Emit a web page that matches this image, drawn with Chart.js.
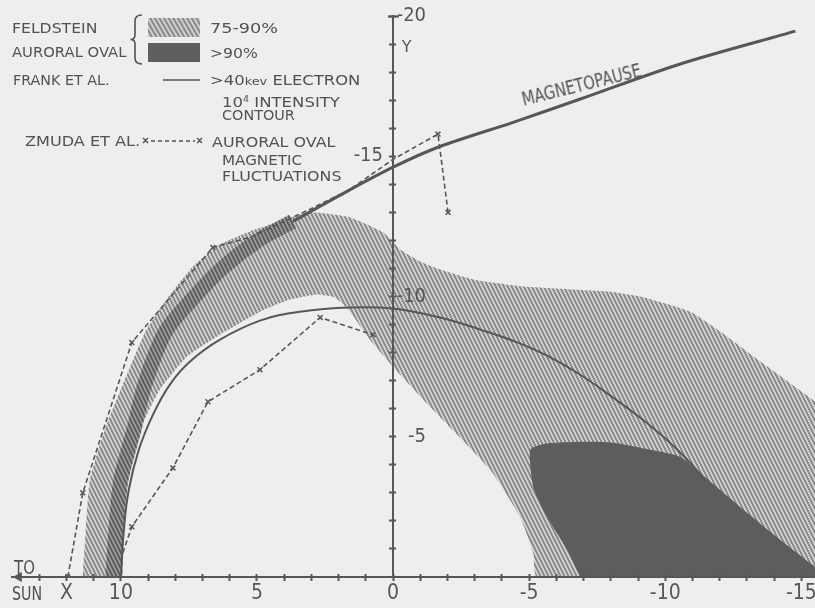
<!DOCTYPE html>
<html>
<head>
<meta charset="utf-8">
<script src="https://cdn.jsdelivr.net/npm/chart.js@4.4.1/dist/chart.umd.min.js"></script>
<style>
  html, body { margin: 0; padding: 0; background: #eeeeec; overflow: hidden; }
  #wrap { position: relative; width: 815px; height: 608px; overflow: hidden; }
  #wrap canvas { position: absolute; left: 0; top: 0; }
  .t { position: absolute; white-space: nowrap; font-family: 'DejaVu Sans', sans-serif; font-size: 14px;
       line-height: 16px; color: #525252; transform-origin: left center; }
  .n { font-family: 'DejaVu Sans Condensed', 'Liberation Sans Narrow', sans-serif; }
  sup { font-size: 8px; vertical-align: 5px; }
</style>
</head>
<body>
<div id="wrap">
  <!-- 6px breiter als das Fenster: Chart.js haelt rechts 6px frei, so reicht die X-Achse bis zum Rand -->
  <canvas id="chart" width="821" height="608"></canvas>

  <!-- legend -->
  <svg width="230" height="190" style="position:absolute;left:0;top:0">
    <defs>
      <pattern id="hatch" width="4" height="4" patternUnits="userSpaceOnUse" patternTransform="rotate(-30)">
        <rect width="4" height="4" fill="#d0d0d0"/>
        <rect width="2" height="4" fill="#8a8a8a"/>
      </pattern>
    </defs>
    <path d="M142 15 Q135 15 135 21 L135 35 Q135 39.5 130.5 39.5 Q135 39.5 135 44 L135 58 Q135 64 142 64"
          fill="none" stroke="#525252" stroke-width="1.6"/>
    <rect x="148" y="18" width="52" height="19" fill="url(#hatch)"/>
    <rect x="148" y="43" width="52" height="19" fill="#5f5f5f"/>
    <line x1="163" y1="80" x2="200" y2="80" stroke="#525252" stroke-width="1.6"/>
    <line x1="151" y1="141" x2="195" y2="141" stroke="#525252" stroke-width="1.5" stroke-dasharray="4 3"/>
    <path d="M143 138 l5 5 M148 138 l-5 5 M197 138 l5 5 M202 138 l-5 5" stroke="#525252" stroke-width="1.4"/>
  </svg>
  <div class="t" data-w="85" style="left:12px;top:20px">FELDSTEIN</div>
  <div class="t" data-w="114" style="left:12px;top:44px">AURORAL OVAL</div>
  <div class="t" data-w="68" style="left:210px;top:20px">75-90%</div>
  <div class="t" data-w="48" style="left:210px;top:45px">&gt;90%</div>
  <div class="t" data-w="97" style="left:13px;top:72px">FRANK ET AL.</div>
  <div class="t" data-w="150" style="left:210px;top:72px">&gt;40<span style="font-size:11px">kev</span> ELECTRON</div>
  <div class="t" data-w="118" style="left:222px;top:92px">10<sup>4</sup> INTENSITY</div>
  <div class="t" data-w="73" style="left:222px;top:107px">CONTOUR</div>
  <div class="t" data-w="115" style="left:25px;top:133px">ZMUDA ET AL.</div>
  <div class="t" data-w="123" style="left:212px;top:134px">AURORAL OVAL</div>
  <div class="t" data-w="80" style="left:222px;top:152px">MAGNETIC</div>
  <div class="t" data-w="120" style="left:222px;top:168px">FLUCTUATIONS</div>

  <!-- annotations -->
  <div class="t n" data-w="122" data-rot="-14" style="left:522px;top:88px;font-size:20px;line-height:22px">MAGNETOPAUSE</div>
  <div class="t n" data-w="21" style="left:14px;top:557px;font-size:19px;line-height:20px">TO</div>
  <div class="t n" data-w="30" style="left:12px;top:583px;font-size:19px;line-height:20px">SUN</div>
</div>

<script>
/* Bahnen und Grenzen, X und Y in Erdradien (X positiv zur Sonne) */

// Magnetopause
const magnetopauseX = [10.29, 10.18, 10.0, 9.52, 9.12, 8.38, 7.39, 6.2, 4.89, 3.68, 1.69, 0, -1.65, -4.41, -6.88, -10.55, -14.78];
const magnetopauseY = [0, -1.68, -3.46, -5.25, -6.86, -8.71, -9.89, -11.07, -12.04, -12.68, -13.75, -14.61, -15.32, -16.21, -17.04, -18.29, -19.46];
const denseBandUntil = 9; // dicht schraffiertes Stueck entlang der Magnetopause

// Frank et al., >40 keV Elektronen, 10^4 Intensitaetskontur
const frankX = [10.0, 9.89, 9.71, 9.34, 8.82, 8.2, 7.46, 6.36, 4.89, 3.42, 1.58, 0, -1.73, -3.2, -4.49, -5.66, -6.88, -8.09, -9.08, -9.93, -10.74, -11.47];
const frankY = [0, -1.68, -3.11, -4.54, -5.79, -6.86, -7.68, -8.46, -9.14, -9.46, -9.61, -9.57, -9.25, -8.82, -8.39, -7.89, -7.21, -6.39, -5.68, -5.0, -4.25, -3.46];

// Zmuda et al., magnetische Fluktuationen (aussen / innen), 1 = Messpunkt mit x
const zmudaOuterX = [11.95, 11.4, 9.6, 6.62, 5.26, 3.05, 1.58, 0, -1.65, -2.02];
const zmudaOuterY = [0, -3.0, -8.36, -11.75, -12.11, -13.11, -13.82, -14.89, -15.79, -13.0];
const zmudaOuterMarked = [1, 1, 1, 1, 0, 0, 0, 0, 1, 1];
const zmudaInnerX = [9.93, 9.6, 8.09, 6.8, 4.89, 2.68, 0.74];
const zmudaInnerY = [-0.86, -1.79, -3.89, -6.25, -7.39, -9.25, -8.64];
const zmudaInnerMarked = [0, 1, 1, 1, 1, 1, 1];

// Feldstein Ovale: 75-90% (schraffiert) und >90% (dunkel), als geschlossene Umrisse
const oval75X = [11.4, 11.29, 11.14, 10.59, 9.93, 9.12, 8.27, 7.35, 6.36, 5.26, 4.15, 3.05, 1.58, 0.37, -0.26, -0.99, -1.73, -2.94, -4.78, -7.87, -9.08, -10.92, -12.02, -13.49, -15.51, -16.07,
                 -16.07, -5.29, -5.15, -4.67, -3.57, -1.36, 0, 0.85, 1.58, 2.13, 2.79, 3.79, 4.89, 6.36, 7.57, 8.57, 9.3, 9.74, 9.89, 9.93];
const oval75Y = [0, -1.68, -3.46, -5.25, -6.86, -8.71, -9.96, -11.07, -11.86, -12.32, -12.68, -13.0, -12.82, -12.29, -11.68, -11.25, -10.96, -10.61, -10.36, -10.18, -10.0, -9.46, -8.75, -7.68, -6.25, -5.79,
                 0, 0, -0.86, -2.14, -3.82, -6.07, -7.5, -8.46, -9.46, -9.96, -10.07, -9.89, -9.46, -8.64, -7.86, -6.68, -5.25, -3.46, -1.68, 0];
const oval90X = [-6.88, -6.4, -5.66, -5.15, -5.04, -5.59, -6.88, -8.09, -9.45, -10.55, -11.29, -13.01, -14.23, -15.51, -16.07];
const oval90Y = [0, -0.96, -2.14, -3.21, -4.54, -4.75, -4.82, -4.79, -4.54, -4.29, -3.71, -2.29, -1.32, -0.36, 0];

// Pfeil "TO SUN" am Ende der X-Achse
const sunArrowX = [13.75];
const sunArrowY = [0];

// Achsenteilung
const xTickValues = [];
for (let v = -15; v <= 13; v++) xTickValues.push(v);
const xTickLabels = {'10': '10', '5': '5', '0': '0', '-5': '-5', '-10': '-10', '-15': '-15', '12': 'X'};
const yTickValues = [];
for (let v = -20; v <= -1; v++) yTickValues.push(v);
const yRightLabels = {'-5': '-5', '-10': '-10', '-20': '-20'};
const yLeftLabels = {'-15': '-15'};
const yTitleTicks = [-18.85];
const yTitleLabels = {'-18.85': 'Y'};

const ink = '#575757';
const narrow = "'DejaVu Sans Condensed', 'Liberation Sans Narrow', sans-serif";

function pts(xs, ys) {
    return xs.map((x, i) => ({x: x, y: ys[i]}));
}

/* Schraffur als Canvas-Muster */
function hatch(lineCol, gapCol) {
    const c = document.createElement('canvas');
    c.width = 4; c.height = 8;
    const g = c.getContext('2d');
    g.fillStyle = gapCol;
    g.fillRect(0, 0, 4, 8);
    g.fillStyle = lineCol;
    for (let y = 0; y < 8; y++) {
        const x = Math.floor(y / 2);
        g.fillRect(x, y, 2, 1);
        g.fillRect(x - 4, y, 2, 1);
    }
    return g.createPattern(c, 'repeat');
}

const lightHatch = hatch('#8b8b8b', '#cdcdcd');
const denseHatch = hatch('#5e5e5e', '#969696');

/* Achsen: Hilfsfunktionen, alle Achsen ueber den Flaechen zeichnen */
function setTicks(values) {
    return function(scale) { scale.ticks = values.map(v => ({value: v})); };
}
function noPadding(scale) {
    scale.paddingLeft = 0; scale.paddingRight = 0;
    scale.paddingTop = 0; scale.paddingBottom = 0;
}
function onTop(opts) {
    opts.grid = Object.assign({z: 1}, opts.grid);
    opts.border = Object.assign({z: 1}, opts.border);
    opts.ticks = Object.assign({z: 1}, opts.ticks);
    return opts;
}
function xAxis(extra) {
    return onTop(Object.assign({type: 'linear', reverse: true, min: -15.5, max: 14, position: {y: 0},
        afterBuildTicks: setTicks(xTickValues), afterFit: noPadding}, extra));
}
function yAxis(values, extra) {
    return onTop(Object.assign({type: 'linear', reverse: true, min: -20, max: 0, position: {x: 0},
        afterBuildTicks: setTicks(values), afterFit: noPadding}, extra));
}
function labelAxis(xPos, values, labels, font) {
    return yAxis(values, {
        position: {x: xPos},
        border: {display: false},
        grid: {display: false, drawTicks: false},
        ticks: {autoSkip: false, padding: 0, color: ink, font: font,
            callback: v => labels[v] !== undefined ? labels[v] : ''}
    });
}

const ctx = document.getElementById('chart').getContext('2d');
new Chart(ctx, {
    type: 'scatter',
    data: {
        datasets: [
            {
                label: 'Magnetopause',
                data: pts(magnetopauseX, magnetopauseY),
                showLine: true, tension: 0.3, pointRadius: 0,
                borderColor: ink, borderWidth: 3,
                segment: {
                    borderWidth: c => c.p0DataIndex < denseBandUntil ? 15 : 3,
                    borderColor: c => c.p0DataIndex < denseBandUntil ? denseHatch : ink
                },
                order: 1
            },
            {
                label: 'Frank et al.',
                data: pts(frankX, frankY),
                showLine: true, tension: 0.4, pointRadius: 0,
                borderColor: ink, borderWidth: 2,
                order: 0
            },
            {
                label: 'Zmuda et al. aussen',
                data: pts(zmudaOuterX, zmudaOuterY),
                showLine: true, tension: 0, borderDash: [5, 3],
                borderColor: ink, borderWidth: 1.6,
                pointStyle: 'crossRot', pointRadius: zmudaOuterMarked.map(m => m ? 3.5 : 0),
                pointBorderColor: ink, pointBorderWidth: 1.5,
                order: 0
            },
            {
                label: 'Zmuda et al. innen',
                data: pts(zmudaInnerX, zmudaInnerY),
                showLine: true, tension: 0, borderDash: [5, 3],
                borderColor: ink, borderWidth: 1.6,
                pointStyle: 'crossRot', pointRadius: zmudaInnerMarked.map(m => m ? 3.5 : 0),
                pointBorderColor: ink, pointBorderWidth: 1.5,
                order: 0
            },
            {
                label: '>90%',
                data: pts(oval90X, oval90Y),
                showLine: true, tension: 0.2, pointRadius: 0, borderWidth: 0,
                fill: 'shape', backgroundColor: '#5d5d5d',
                order: 4
            },
            {
                label: '75-90%',
                data: pts(oval75X, oval75Y),
                showLine: true, tension: 0.15, pointRadius: 0, borderWidth: 0,
                fill: 'shape', backgroundColor: lightHatch,
                order: 5
            },
            {
                label: 'to sun',
                data: pts(sunArrowX, sunArrowY),
                pointStyle: 'triangle', rotation: -90, pointRadius: 5,
                backgroundColor: ink, borderColor: ink, borderWidth: 1,
                clip: false, order: 0
            }
        ]
    },
    options: {
        responsive: false,
        animation: false,
        events: [],
        layout: {padding: {left: 12, right: 0, top: 16, bottom: 31}},
        plugins: {legend: {display: false}, tooltip: {enabled: false}},
        scales: {
            x: xAxis({
                border: {display: true, color: ink, width: 2},
                grid: {drawOnChartArea: false, tickLength: 3, tickWidth: 2, tickColor: ink},
                ticks: {autoSkip: false, maxRotation: 0, padding: 1, color: ink,
                    font: {family: narrow, size: 21},
                    callback: v => xTickLabels[v] !== undefined ? xTickLabels[v] : ''}
            }),
            xUp: xAxis({
                border: {display: false},
                grid: {drawOnChartArea: false, tickLength: -3, tickWidth: 2, tickColor: ink},
                ticks: {display: false}
            }),
            y: yAxis(yTickValues, {
                border: {display: true, color: ink, width: 2},
                grid: {drawOnChartArea: false, tickLength: 3, tickWidth: 2, tickColor: ink},
                ticks: {display: false}
            }),
            yRight: yAxis(yTickValues, {
                border: {display: false},
                grid: {drawOnChartArea: false, tickLength: -3, tickWidth: 2, tickColor: ink},
                ticks: {display: false}
            }),
            yCap: yAxis([-20], {
                position: {x: -0.2},
                border: {display: false},
                grid: {drawOnChartArea: false, tickLength: 11, tickWidth: 2, tickColor: ink},
                ticks: {display: false}
            }),
            yLab: labelAxis(-1.21, yTickValues, yRightLabels, {family: narrow, size: 20}),
            yLab15: labelAxis(0.37, yTickValues, yLeftLabels, {family: narrow, size: 20}),
            yTitle: labelAxis(-0.68, yTitleTicks, yTitleLabels, {family: "'DejaVu Sans', sans-serif", size: 16})
        }
    }
});

/* Texte auf Zielbreite bringen */
document.querySelectorAll('.t').forEach(el => {
    const w = parseFloat(el.dataset.w);
    const s = w / el.offsetWidth;
    const rot = el.dataset.rot ? ' rotate(' + el.dataset.rot + 'deg)' : '';
    el.style.transform = rot + ' scaleX(' + s.toFixed(3) + ')';
});
</script>
</body>
</html>
